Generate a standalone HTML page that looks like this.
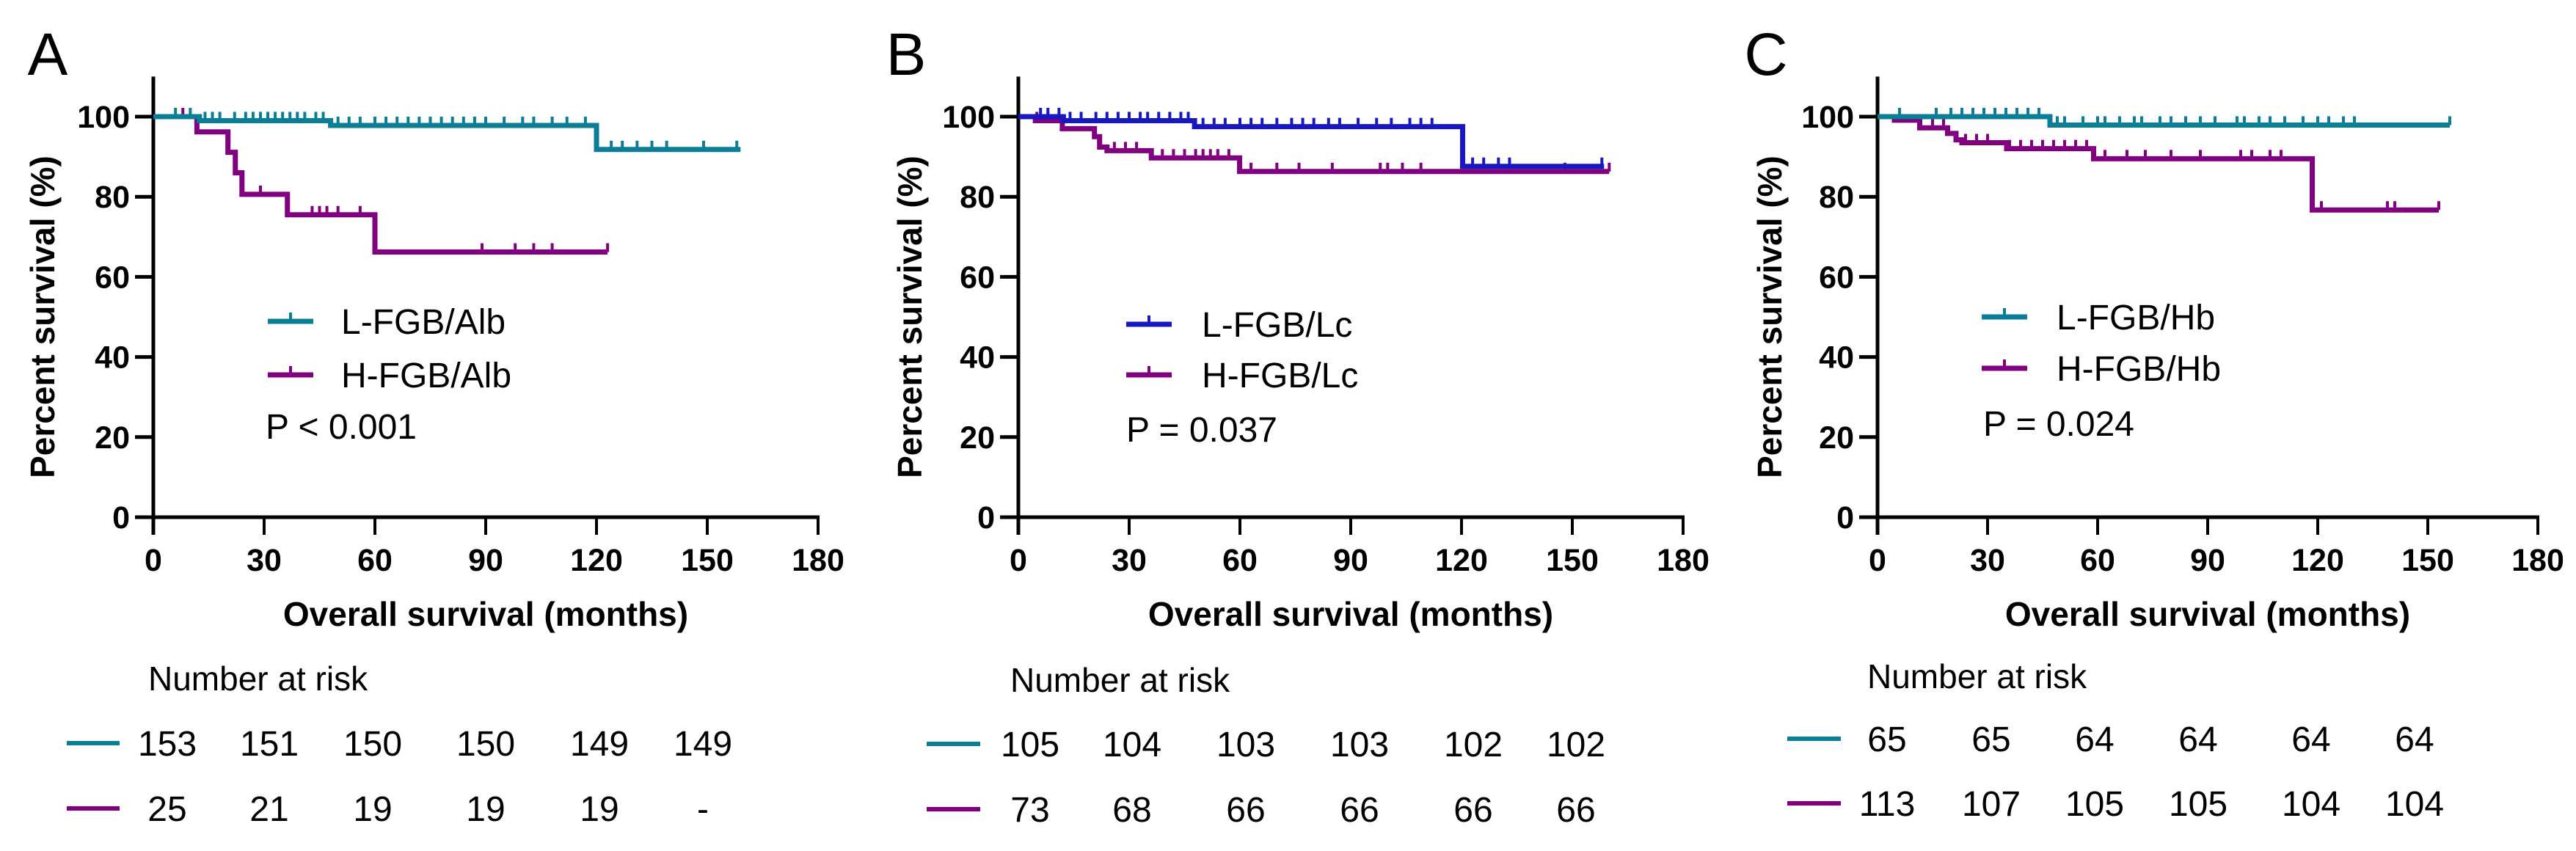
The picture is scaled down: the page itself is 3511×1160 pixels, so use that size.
<!DOCTYPE html>
<html><head><meta charset="utf-8">
<style>
html,body{margin:0;padding:0;background:#fff;}
svg{display:block;}
text{font-family:"Liberation Sans",Arial,sans-serif;}
</style></head>
<body>
<svg id="fig" width="3511" height="1160" viewBox="0 0 3511 1160" xmlns="http://www.w3.org/2000/svg"></svg>
<script>
// ---- data ----
const xTicks = [0, 30, 60, 90, 120, 150, 180];
const yTicks = [0, 20, 40, 60, 80, 100];
const panelLetters = ["A", "B", "C"];
const legendLow = ["L-FGB/Alb", "L-FGB/Lc", "L-FGB/Hb"];
const legendHigh = ["H-FGB/Alb", "H-FGB/Lc", "H-FGB/Hb"];
const pLabels = ["P < 0.001", "P = 0.037", "P = 0.024"];
const riskLow = [["153","151","150","150","149","149"],["105","104","103","103","102","102"],["65","65","64","64","64","64"]];
const riskHigh = [["25","21","19","19","19","-"],["73","68","66","66","66","66"],["113","107","105","105","104","104"]];

const aLowT = [0, 12.5, 48, 120];
const aLowS = [100, 99, 97.8, 91.8];
const aLowEnd = 159;
const aLowCens = [6,10,14,16,18,22,25,27,29,31,33,35,37,39,41,44,46,50,53,56,60,63,66,69,72,75,78,81,84,87,90,95,100,103,108,112,117,124,127,131,135,139,149,158];
const aHighT = [0, 11.8, 20.2, 22.2, 24, 36.3, 60];
const aHighS = [100, 96.2, 91.1, 86, 80.6, 75.5, 66.2];
const aHighEnd = 123;
const aHighCens = [8,29,43,45,47,50,56,89,98,103,108,123];

const bLowT = [0, 12.2, 47.7, 120.3];
const bLowS = [100, 99, 97.5, 87.6];
const bLowEnd = 158.6;
const bLowCens = [6,8,11,14,17,21,24,27,30,33,35,38,41,44,46,50,53,56,60,63,66,70,74,77,80,84,87,92,97,101,106,109,112,123,126,130,133,158];
const bHighT = [0, 4.6, 11.9, 20.6, 22, 24, 36, 59.9];
const bHighS = [100, 99, 97, 95, 92.4, 91.5, 89.7, 86.3];
const bHighEnd = 160;
const bHighCens = [5,8,26,29,32,39,42,45,48,50,52,54,57,63,70,76,85,98,100,104,109,148,160];

const cLowT = [0, 47];
const cLowS = [100, 97.9];
const cLowEnd = 156;
const cLowCens = [6,16,20,23,26,29,32,35,38,41,44,49,51,56,60,62,66,70,72,77,80,84,88,92,98,100,104,107,111,116,120,123,127,130,156];
const cHighT = [0, 4.6, 11.5, 19.1, 21.4, 23, 35.2, 58.9, 118.5];
const cHighS = [100, 99.1, 97.2, 95.8, 94.2, 93.5, 92, 89.5, 76.7];
const cHighEnd = 153;
const cHighCens = [6,15,18,24,27,30,36,39,42,45,48,51,54,57,62,68,73,80,88,99,102,107,110,121,139,141,153];

const series = [
  {lt:aLowT, ls:aLowS, le:aLowEnd, lc:aLowCens, ht:aHighT, hs:aHighS, he:aHighEnd, hc:aHighCens},
  {lt:bLowT, ls:bLowS, le:bLowEnd, lc:bLowCens, ht:bHighT, hs:bHighS, he:bHighEnd, hc:bHighCens},
  {lt:cLowT, ls:cLowS, le:cLowEnd, lc:cLowCens, ht:cHighT, hs:cHighS, he:cHighEnd, hc:cHighCens}
];

// ---- layout ----
const layout = [
  {ox:209, pxm:151/30, letterX:65, titleX:58, legX:365, legTextX:465, legY1:438, legY2:511, pX:362, pY:581,
   riskTitleX:202, riskTitleY:925, riskLineX:[91,163], riskY1:1013, riskY2:1102, riskX:[228,367,508,662,817,958], lowColor:"#0a7e96"},
  {ox:1388, pxm:151/30, letterX:1235, titleX:1240, legX:1535, legTextX:1638, legY1:442, legY2:511, pX:1535, pY:585,
   riskTitleX:1377, riskTitleY:927, riskLineX:[1263,1336], riskY1:1014, riskY2:1103, riskX:[1404,1543,1698,1853,2008,2148], lowColor:"#1818c0"},
  {ox:2559, pxm:150/30, letterX:2407, titleX:2412, legX:2701, legTextX:2803, legY1:432, legY2:502, pX:2703, pY:577,
   riskTitleX:2545, riskTitleY:922, riskLineX:[2436,2509], riskY1:1007, riskY2:1095, riskX:[2572,2714,2855,2996,3150,3291], lowColor:"#0a7e96"}
];
const PURPLE = "#800080";
const TEAL = "#0a7e96";
const y0 = 705, pxv = 5.46;
const svg = document.getElementById('fig');
const NS = "http://www.w3.org/2000/svg";
function mk(tag, attrs, parent){
  const e = document.createElementNS(NS, tag);
  for (const k in attrs) e.setAttribute(k, attrs[k]);
  (parent||svg).appendChild(e);
  return e;
}
function yS(v){ return y0 - v*pxv; }

layout.forEach((L, i) => {
  const xS = t => L.ox + t*L.pxm;
  const g = mk('g', {});
  
  

  const letter = mk('text', {x:L.letterX, y:102, 'font-size':82, 'text-anchor':'middle'}, g);
  letter.textContent = panelLetters[i];
  
  

  // axes
  const ya = mk('line', {x1:L.ox, y1:yS(110), x2:L.ox, y2:y0+24, stroke:'#000', 'stroke-width':5}, g);
  
  
  const xa = mk('line', {x1:L.ox-25, y1:y0, x2:xS(180)+2, y2:y0, stroke:'#000', 'stroke-width':5}, g);
  
  

  yTicks.forEach(v => {
    mk('line', {x1:L.ox-25, y1:yS(v), x2:L.ox, y2:yS(v), stroke:'#000', 'stroke-width':5}, g);
    const t = mk('text', {x:L.ox-32, y:yS(v)+15, 'font-size':43, 'font-weight':'bold', 'text-anchor':'end'}, g);
    t.textContent = v;
    
    
  });
  xTicks.forEach(v => {
    mk('line', {x1:xS(v), y1:y0, x2:xS(v), y2:y0+24, stroke:'#000', 'stroke-width':4}, g);
    const t = mk('text', {x:xS(v), y:778, 'font-size':43, 'font-weight':'bold', 'text-anchor':'middle'}, g);
    t.textContent = v;
    
    
  });
  const xt = mk('text', {x:xS(90), y:853, 'font-size':46, 'font-weight':'bold', 'text-anchor':'middle'}, g);
  xt.textContent = 'Overall survival (months)';
  
  
  const yt = mk('text', {x:0, y:0, 'font-size':46, 'font-weight':'bold', 'text-anchor':'middle',
    transform:'translate(' + (L.titleX+16) + ',' + yS(50) + ') rotate(-90)'}, g);
  yt.textContent = 'Percent survival (%)';
  
  

  // curves
  const S = series[i];
  function curve(T, V, end, cens, color, name){
    let d = 'M' + xS(T[0]) + ' ' + yS(V[0]);
    for (let k = 1; k < T.length; k++) {
      d += ' H' + xS(T[k]) + ' V' + yS(V[k]);
    }
    d += ' H' + xS(end);
    const p = mk('path', {d:d, fill:'none', stroke:color, 'stroke-width':7}, g);
    
    
    cens.forEach(c => {
      let v = V[0];
      for (let k = 0; k < T.length; k++) if (T[k] <= c) v = V[k];
      const m = mk('line', {x1:xS(c), y1:yS(v)-12, x2:xS(c), y2:yS(v), stroke:color, 'stroke-width':4}, g);
      
      
    });
  }
  curve(S.ht, S.hs, S.he, S.hc, PURPLE, 'high-group');
  curve(S.lt, S.ls, S.le, S.lc, L.lowColor, 'low-group');

  // legend
  const l1 = mk('line', {x1:L.legX, y1:L.legY1, x2:L.legX+62, y2:L.legY1, stroke:L.lowColor, 'stroke-width':7}, g);
  
  
  mk('line', {x1:L.legX+31, y1:L.legY1-12, x2:L.legX+31, y2:L.legY1, stroke:L.lowColor, 'stroke-width':4}, g);
  const lt1 = mk('text', {x:L.legTextX, y:L.legY1+17, 'font-size':48}, g);
  lt1.textContent = legendLow[i];
  
  
  const l2 = mk('line', {x1:L.legX, y1:L.legY2, x2:L.legX+62, y2:L.legY2, stroke:PURPLE, 'stroke-width':7}, g);
  
  
  mk('line', {x1:L.legX+31, y1:L.legY2-12, x2:L.legX+31, y2:L.legY2, stroke:PURPLE, 'stroke-width':4}, g);
  const lt2 = mk('text', {x:L.legTextX, y:L.legY2+17, 'font-size':48}, g);
  lt2.textContent = legendHigh[i];
  
  
  const pt = mk('text', {x:L.pX, y:L.pY+17, 'font-size':48}, g);
  pt.textContent = pLabels[i];
  
  

  // risk table
  const rt = mk('text', {x:L.riskTitleX, y:L.riskTitleY+16, 'font-size':46}, g);
  rt.textContent = 'Number at risk';
  
  
  const r1 = mk('line', {x1:L.riskLineX[0], y1:L.riskY1, x2:L.riskLineX[1], y2:L.riskY1, stroke:TEAL, 'stroke-width':6}, g);
  
  
  const r2 = mk('line', {x1:L.riskLineX[0], y1:L.riskY2, x2:L.riskLineX[1], y2:L.riskY2, stroke:PURPLE, 'stroke-width':6}, g);
  
  
  riskLow[i].forEach((v, k) => {
    const t = mk('text', {x:L.riskX[k], y:L.riskY1+17, 'font-size':48, 'text-anchor':'middle'}, g);
    t.textContent = v;
    
    
  });
  riskHigh[i].forEach((v, k) => {
    const t = mk('text', {x:L.riskX[k], y:L.riskY2+17, 'font-size':48, 'text-anchor':'middle'}, g);
    t.textContent = v;
    
    
  });
});
</script>
</body></html>
